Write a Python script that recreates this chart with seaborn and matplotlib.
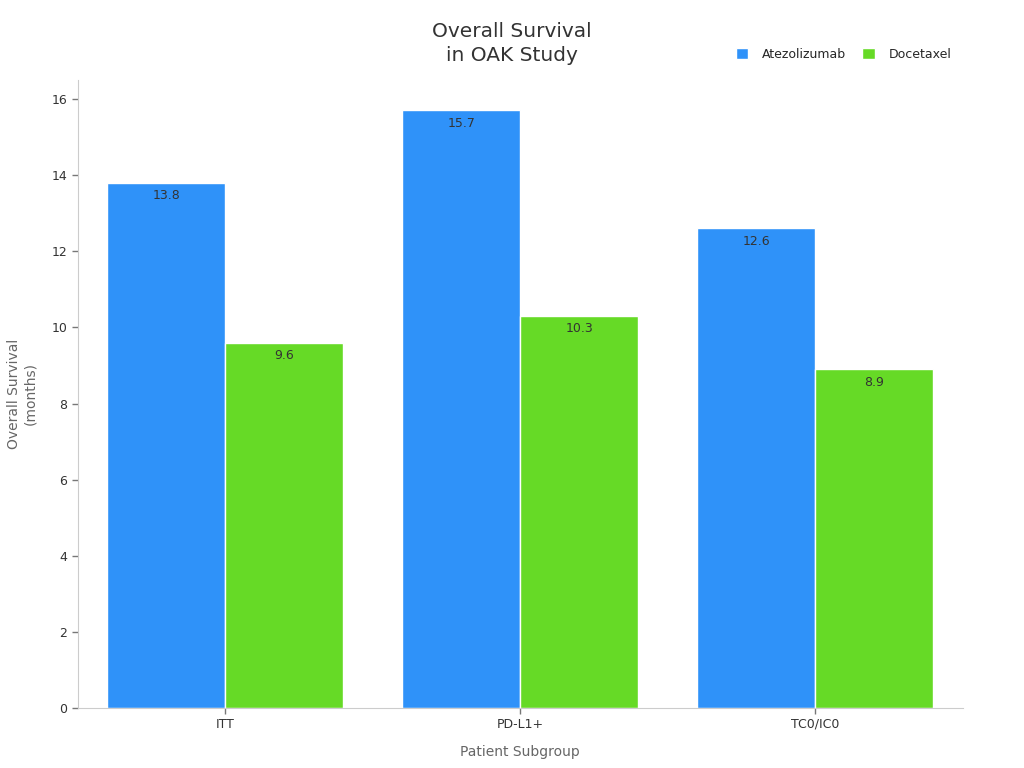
import matplotlib
matplotlib.use("Agg")
import matplotlib.pyplot as plt
import seaborn as sns
import pandas as pd

subgroups = ["ITT", "PD-L1+", "TC0/IC0"]
atezolizumab = [13.8, 15.7, 12.6]
docetaxel = [9.6, 10.3, 8.9]
treatments = ["Atezolizumab", "Docetaxel"]
palette = {"Atezolizumab": "#2F92F9", "Docetaxel": "#66DA26"}

df = pd.DataFrame({
    "subgroup": subgroups * 2,
    "treatment": [treatments[0]] * 3 + [treatments[1]] * 3,
    "months": atezolizumab + docetaxel,
})

sns.set_style("white")
plt.rcParams["font.family"] = ["DejaVu Sans"]

fig = plt.figure(figsize=(10.24, 7.68), dpi=100)
ax = fig.add_axes([0.076, 0.078, 0.864, 0.818])

sns.barplot(data=df, x="subgroup", y="months", hue="treatment",
            palette=palette, edgecolor="white", linewidth=1, saturation=1,
            ax=ax)

for cont in ax.containers:
    ax.bar_label(cont, fmt="%.1f", label_type="edge", padding=-14,
                 fontsize=9, color="#333333")

ax.set_ylim(0, 16.5)
ax.set_yticks(range(0, 17, 2))
ax.set_xlabel("Patient Subgroup", fontsize=10, color="#666666", labelpad=10)
ax.set_ylabel("Overall Survival\n(months)", fontsize=10, color="#666666", labelpad=10)
ax.tick_params(axis="both", labelsize=9, labelcolor="#333333", length=4, width=1,
               color="#777777", left=True, bottom=True)
ax.tick_params(axis="x", pad=3)

for side in ["top", "right"]:
    ax.spines[side].set_visible(False)
for side in ["left", "bottom"]:
    ax.spines[side].set_color("#cccccc")

fig.suptitle("Overall Survival\nin OAK Study", fontsize=14.5, color="#333333",
             x=0.5, y=0.972, linespacing=1.35)

ax.legend(loc="lower right", bbox_to_anchor=(1.0, 1.012), ncol=2, frameon=False,
          fontsize=9, handlelength=1.0, handleheight=1.0, columnspacing=1.3,
          handletextpad=1.1)

fig.savefig("out.png", dpi=100)
